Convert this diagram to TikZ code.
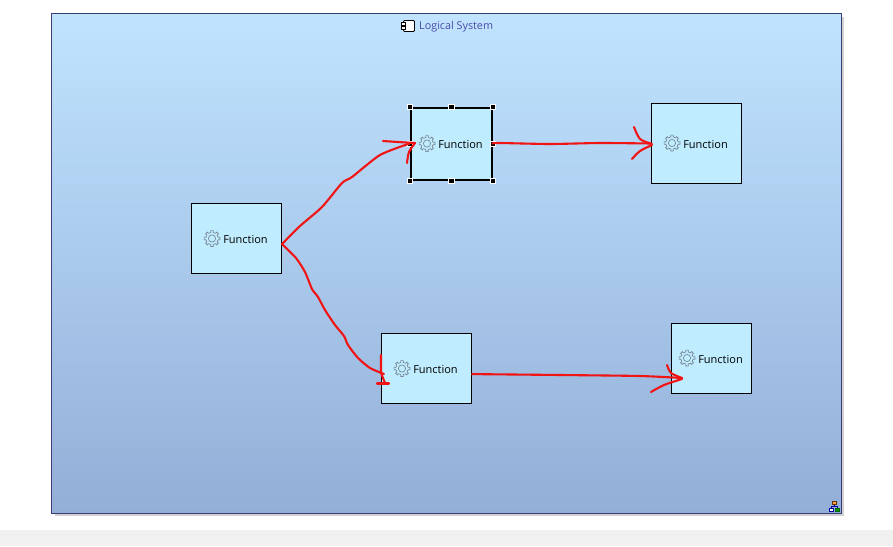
\documentclass[tikz,border=0pt]{standalone}
\usepackage{fontspec}
\setmainfont{Open Sans}
\definecolor{paneltop}{HTML}{C0E4FF}
\definecolor{panelbot}{HTML}{93AED7}
\definecolor{panelline}{HTML}{3C3C78}
\definecolor{fnfill}{HTML}{BFEDFF}
\definecolor{titleblue}{HTML}{4A4AA8}
\definecolor{geargray}{HTML}{7A8896}
\definecolor{inkred}{HTML}{F01414}
\tikzset{
  fnbox/.style={draw=black,fill=fnfill,line width=1pt,inner sep=0pt},
  fnlabel/.style={font=\fontsize{11}{12}\selectfont,text=black,inner sep=0pt},
  handle/.style={fill=black,draw=white,line width=.4pt,minimum size=5.5pt,inner sep=0pt},
  ink/.style={draw=inkred,line width=2.1pt,line cap=round,line join=round},
  gear/.pic={
    \draw[geargray,line width=.7pt] (-22.5:6) \foreach \a in {0,45,...,315} {
      -- (\a-22.5:6) -- (\a-10:6.4) -- (\a-9:8) -- (\a+9:8) -- (\a+10:6.4)} -- cycle;
    \draw[geargray,line width=.7pt] (0,0) circle (3.6);
  },
}
\begin{document}
\begin{tikzpicture}[x=1pt,y=-1pt]
\useasboundingbox (0,0) rectangle (893,546);
\fill[white] (0,0) rectangle (893,546);
\fill[black!6] (0,530) rectangle (893,546);
% panel
\fill[black!18] (54.5,16.5) rectangle (844,516);
\shade[top color=paneltop,bottom color=panelbot,draw=panelline,line width=1pt] (51.5,13.5) rectangle (841.5,513.5);
\node[draw=black,fill=white,rounded corners=1pt,line width=.8pt,minimum width=11pt,minimum height=11pt,inner sep=0pt] (comp) at (409,26) {};
\node[draw=black,fill=white,line width=.6pt,minimum width=4pt,minimum height=2.5pt,inner sep=0pt] (compa) at (403.5,24) {};
\node[draw=black,fill=white,line width=.6pt,minimum width=4pt,minimum height=2.5pt,inner sep=0pt] (compb) at (403.5,28) {};
\node[anchor=west,inner sep=0pt,text=titleblue,font=\fontsize{10.8}{12}\selectfont] (title) at (419,27) {Logical System};
% functions
\node[fnbox,minimum width=90pt,minimum height=70pt] (fn1) at (236.5,238.5) {};
\node[fnbox,minimum width=81pt,minimum height=72pt,line width=2pt] (fn2) at (451,143.5) {};
\node[fnbox,minimum width=90pt,minimum height=80pt] (fn3) at (696.5,143.5) {};
\node[fnbox,minimum width=90pt,minimum height=70pt] (fn4) at (426.5,368.5) {};
\node[fnbox,minimum width=80pt,minimum height=70pt] (fn5) at (711.5,358.5) {};
\foreach \a [count=\i] in {north west,north,north east,east,south east,south,south west,west}
  \node[handle] (h\i) at (fn2.\a) {};
\node[fnlabel] (lb1) at (245.5,239.5) {Function};
\node[fnlabel] (lb2) at (460.5,144.5) {Function};
\node[fnlabel] (lb3) at (705.5,144.5) {Function};
\node[fnlabel] (lb4) at (435.5,369.5) {Function};
\node[fnlabel] (lb5) at (720.5,359.5) {Function};
\pic at (212,238.5) {gear};
\pic at (427,143.5) {gear};
\pic at (672,143) {gear};
\pic at (402,368.5) {gear};
\pic at (687,358) {gear};
% red strokes
\draw[ink] plot[smooth,tension=.4] coordinates {(fn1.-7) (300,226) (322,207) (342,183) (352,177) (380,155) (fn2.west)};
\draw[ink] plot[smooth,tension=.4] coordinates {(fn1.-7) (296,258) (305,272) (312,289) (318,297) (325,310) (335,325) (344,336) (348,345) (358,358) (370,368) (384,374)};
\draw[ink] plot[smooth,tension=.4] coordinates {(fn2.east) (500,143) (550,144) (600,143) (fn3.west)};
\draw[ink] plot[smooth,tension=.4] coordinates {(fn4.-7) (560,375) (640,376) (682,378)};
% arrow heads by hand
\draw[ink] plot[smooth,tension=.5] coordinates {(383,141) (398,142) (415,143)};
\draw[ink] plot[smooth,tension=.5] coordinates {(407,163) (409,152) (415,143)};
\draw[ink] plot[smooth,tension=.5] coordinates {(634,127) (640,139) (652,144)};
\draw[ink] plot[smooth,tension=.5] coordinates {(632,159) (640,151) (652,145)};
\draw[ink] plot[smooth,tension=.5] coordinates {(667,365) (671,373) (682,378)};
\draw[ink] plot[smooth,tension=.5] coordinates {(651,392) (664,385) (682,379)};
\draw[ink] (381,355) -- (381,373) -- (385,383);
\draw[ink] (377,383.5) -- (389,383.5);
% corner icon
\node[draw=black!60!orange,fill=orange!70,minimum width=4.5pt,minimum height=3.5pt,inner sep=0pt,line width=.6pt] (ictop) at (834.5,503) {};
\node[draw=blue!60!black,fill=white,minimum width=4.5pt,minimum height=3pt,inner sep=0pt,line width=.6pt] (icl) at (831.5,510) {};
\node[draw=green!40!black,fill=green!60!black,minimum width=4.5pt,minimum height=3pt,inner sep=0pt,line width=.6pt] (icr) at (837.5,510) {};
\draw[blue!60!black,line width=.7pt] (ictop) -- ++(0,3.5) -| (icl);
\draw[blue!60!black,line width=.7pt] (ictop) -- ++(0,3.5) -| (icr);
\end{tikzpicture}
\end{document}
